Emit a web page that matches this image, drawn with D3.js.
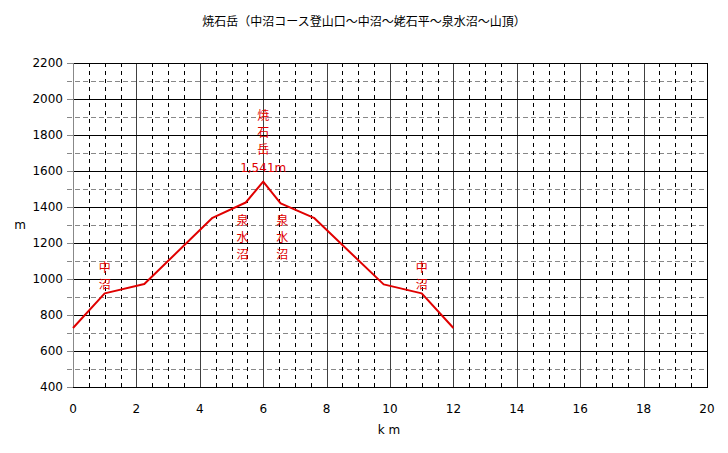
<!DOCTYPE html>
<html>
<head>
<meta charset="utf-8">
<script src="https://cdn.jsdelivr.net/npm/d3@7"></script>
<style>
  body { margin: 0; background: #fff; }
  text { font-family: "DejaVu Sans", sans-serif; font-size: 12px; }
  .jp { font-family: "Noto Sans CJK JP", sans-serif; }
</style>
</head>
<body>
<script>
// route profile: distance (km) and altitude (m)
const distKm = [0, 1.0, 2.25, 4.4, 5.45, 6.0, 6.55, 7.6, 9.8, 11.0, 12.0];
const altM = [728, 920, 972, 1340, 1425, 1541, 1420, 1340, 970, 920, 728];

const xTicks = [0, 2, 4, 6, 8, 10, 12, 14, 16, 18, 20];
const yTicks = [400, 600, 800, 1000, 1200, 1400, 1600, 1800, 2000, 2200];

// vertical place names along the route
const places = [
    { name: "中沼", km: 1.0, top: 267 },
    { name: "焼石岳", km: 6.0, top: 115 },
    { name: "泉水沼", km: 5.35, top: 220 },
    { name: "泉水沼", km: 6.6, top: 220 },
    { name: "中沼", km: 11.0, top: 267 },
];
const summitLabel = "1,541m";

const w = 728;
const h = 453;

const x = d3.scaleLinear().domain([0, 20]).range([73, 707]);
const y = d3.scaleLinear().domain([400, 2200]).range([387, 63]);
const px = v => Math.round(x(v)) + 0.5;
const py = v => Math.round(y(v)) + 0.5;

const svg = d3.select("body").append("svg").attr("width", w).attr("height", h);

svg.append("text")
    .attr("class", "jp")
    .attr("x", 364)
    .attr("y", 26)
    .attr("text-anchor", "middle")
    .text("焼石岳（中沼コース登山口〜中沼〜姥石平〜泉水沼〜山頂）");

const grid = svg.append("g");

// minor horizontal, every 100 m
grid.selectAll("line.hmin")
    .data(d3.range(500, 2200, 200))
    .enter()
    .append("line")
    .attr("x1", 67).attr("x2", x(20))
    .attr("y1", py).attr("y2", py)
    .style("stroke", "#888")
    .style("stroke-dasharray", "5,3");

// minor vertical, every 0.5 km
grid.selectAll("line.vmin")
    .data(d3.range(0.5, 20, 0.5).filter(d => d % 2 !== 0))
    .enter()
    .append("line")
    .attr("x1", px).attr("x2", px)
    .attr("y1", y(2200)).attr("y2", y(400))
    .style("stroke", "#000")
    .style("stroke-dasharray", "4,4");

// major vertical
grid.selectAll("line.vmaj")
    .data(xTicks.slice(1, -1))
    .enter()
    .append("line")
    .attr("x1", px).attr("x2", px)
    .attr("y1", y(2200)).attr("y2", y(400))
    .style("stroke", "#404040");

// major horizontal
grid.selectAll("line.hmaj")
    .data(yTicks)
    .enter()
    .append("line")
    .attr("x1", 67).attr("x2", x(20))
    .attr("y1", py).attr("y2", py)
    .style("stroke", "#000");

// left tick stubs + axis
grid.selectAll("line.tick")
    .data(yTicks)
    .enter()
    .append("line")
    .attr("x1", 67).attr("x2", x(0))
    .attr("y1", py).attr("y2", py)
    .style("stroke", "#888");
grid.append("line")
    .attr("x1", px(0)).attr("x2", px(0))
    .attr("y1", y(2200)).attr("y2", y(400))
    .style("stroke", "#888");
grid.append("line")
    .attr("x1", px(20)).attr("x2", px(20))
    .attr("y1", y(2200)).attr("y2", y(400) + 1)
    .style("stroke", "#000");
grid.append("line")
    .attr("x1", px(0)).attr("x2", px(20))
    .attr("y1", py(400)).attr("y2", py(400))
    .style("stroke", "#000");

// tick labels
svg.selectAll("text.yl")
    .data(yTicks)
    .enter()
    .append("text")
    .attr("x", 63)
    .attr("y", d => y(d) + 4)
    .attr("text-anchor", "end")
    .text(d => d);

svg.selectAll("text.xl")
    .data(xTicks)
    .enter()
    .append("text")
    .attr("x", d => x(d))
    .attr("y", 413)
    .attr("text-anchor", "middle")
    .text(d => d);

svg.append("text").attr("x", 20).attr("y", 229).attr("text-anchor", "middle").text("m");
svg.append("text").attr("x", 389).attr("y", 434).attr("text-anchor", "middle").text("k m");

// profile line
const line = d3.line().x((d, i) => x(distKm[i])).y(d => y(d));
svg.append("path")
    .datum(altM)
    .attr("d", line)
    .style("fill", "none")
    .style("stroke", "#e00000")
    .style("stroke-width", 2)
    .style("stroke-linejoin", "round");

// place names, written vertically
places.forEach(p => {
    svg.selectAll(null)
        .data(Array.from(p.name))
        .enter()
        .append("text")
        .attr("class", "jp")
        .attr("x", x(p.km))
        .attr("y", (d, i) => p.top + 5 + i * 17)
        .attr("text-anchor", "middle")
        .style("fill", "#e00000")
        .text(d => d);
});

svg.append("text")
    .attr("x", x(6.0))
    .attr("y", 172)
    .attr("text-anchor", "middle")
    .style("fill", "#e00000")
    .text(summitLabel);
</script>
</body>
</html>
